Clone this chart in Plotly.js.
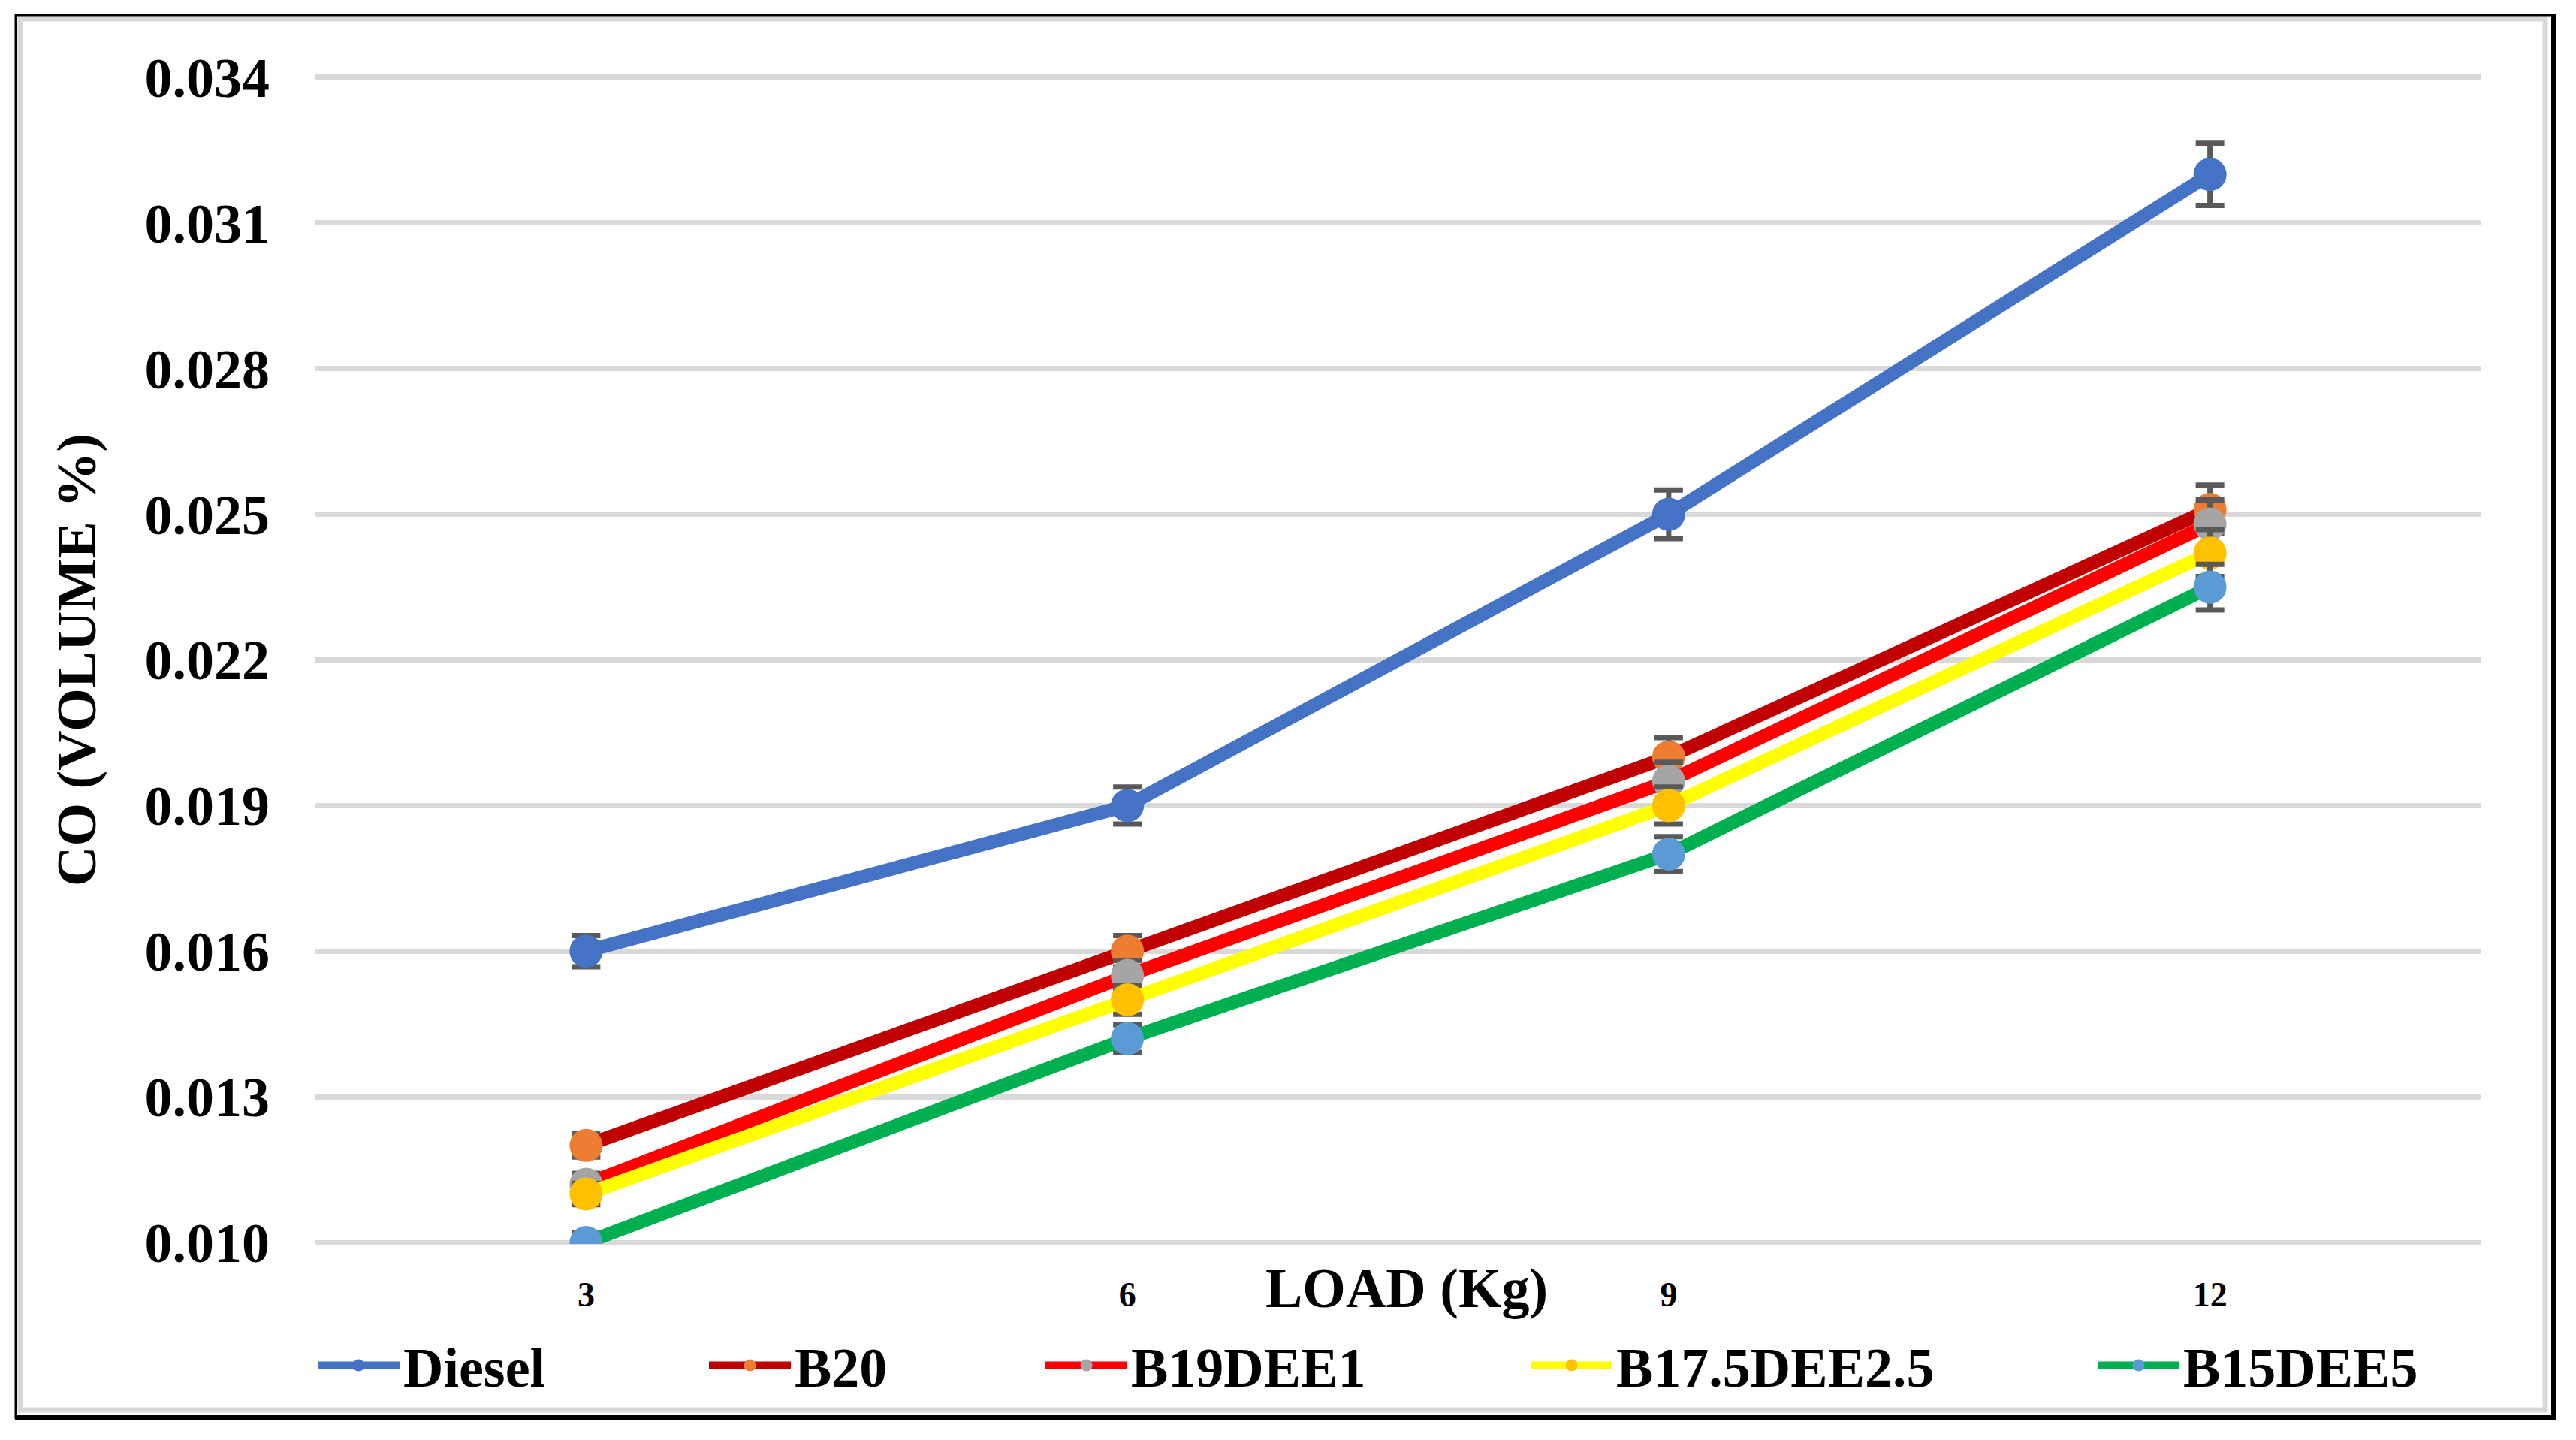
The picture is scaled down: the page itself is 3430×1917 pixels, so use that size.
<!DOCTYPE html>
<html>
<head>
<meta charset="utf-8">
<script src="https://cdn.plot.ly/plotly-3.0.1.min.js"></script>
<style>
html,body{margin:0;padding:0;background:#ffffff;}
#chart{width:3430px;height:1917px;}
</style>
</head>
<body>
<div id="chart"></div>
<script>
// ---------- data ----------
const loads = ['3', '6', '9', '12'];
const diesel    = [0.0160, 0.0190, 0.0250, 0.0320];
const b20       = [0.0120, 0.0160, 0.0200, 0.0251];
const b19dee1   = [0.0112, 0.0155, 0.0195, 0.0248];
const b175dee25 = [0.0110, 0.0150, 0.0190, 0.0242];
const b15dee5   = [0.0100, 0.0142, 0.0180, 0.0235];
const seriesNames = ['Diesel', 'B20', 'B19DEE1', 'B17.5DEE2.5', 'B15DEE5'];
const errorPercent = 2;
const yTickVals = [0.010, 0.013, 0.016, 0.019, 0.022, 0.025, 0.028, 0.031, 0.034];
const xTitle = 'LOAD (Kg)';
const yTitle = 'CO (VOLUME %)';

// ---------- styling ----------
const seriesValues = [diesel, b20, b19dee1, b175dee25, b15dee5];
const lineColors   = ['#4472C4', '#C00000', '#FF0000', '#FFFF00', '#00B050'];
const markerColors = ['#4472C4', '#ED7D31', '#A5A5A5', '#FFC000', '#5B9BD5'];
const FONT = '"Liberation Serif", "Times New Roman", serif';

const W = 3430, H = 1917;
const mL = 420, mR = 127, mT = 101, mB = 261;
const plotW = W - mL - mR, plotH = H - mT - mB;
const px = x => (x - mL) / plotW;
const py = y => (H - mB - y) / plotH;

const legendNames = ['legend', 'legend2', 'legend3', 'legend4', 'legend5'];
const legendStartPx = [418, 939, 1387, 2033, 2788];

const traces = seriesValues.map((vals, i) => ({
  type: 'scatter',
  mode: 'lines+markers',
  name: seriesNames[i],
  x: loads,
  y: vals,
  legend: legendNames[i],
  line: {color: lineColors[i], width: 18},
  marker: {color: markerColors[i], size: 44},
  error_y: {type: 'percent', value: errorPercent, visible: true, color: '#595959', thickness: 7, width: 19}
}));

const layout = {
  width: W, height: H,
  paper_bgcolor: '#ffffff', plot_bgcolor: '#ffffff',
  margin: {l: mL, r: mR, t: mT, b: mB, pad: 0},
  font: {family: FONT, color: '#000000', size: 74, weight: 'bold'},
  showlegend: true,
  xaxis: {
    type: 'category',
    range: [-0.5, 3.5],
    showgrid: false, zeroline: false, showline: false, ticks: '',
    tickfont: {family: FONT, size: 46, color: '#000000', weight: 'bold'},
    ticklabelstandoff: 36,
    fixedrange: true
  },
  yaxis: {
    range: [0.00997, 0.03403],
    tickvals: yTickVals,
    tickformat: '.3f',
    showgrid: true, gridcolor: '#D9D9D9', gridwidth: 7,
    zeroline: false, showline: false, ticks: '',
    tickfont: {family: FONT, size: 74, color: '#000000', weight: 'bold'},
    ticklabelstandoff: 60,
    title: {text: yTitle, font: {family: FONT, size: 74, color: '#000000', weight: 'bold'}, standoff: 40},
    fixedrange: true
  },
  annotations: [{
    text: xTitle, xref: 'paper', yref: 'paper',
    x: px(1873), y: py(1715), xanchor: 'center', yanchor: 'middle',
    showarrow: false,
    font: {family: FONT, size: 74, color: '#000000', weight: 'bold'}
  }],
  shapes: [
    // inner grey border
    {type: 'rect', xref: 'paper', yref: 'paper', x0: px(27), x1: px(3389), y0: py(25), y1: py(1877),
     line: {color: '#D9D9D9', width: 7}, fillcolor: 'rgba(0,0,0,0)', layer: 'below'},
    // outer black frame: thin top/left, heavier bottom/right
    {type: 'line', xref: 'paper', yref: 'paper', x0: px(20), x1: px(3401), y0: py(20), y1: py(20), line: {color: '#000000', width: 3}},
    {type: 'line', xref: 'paper', yref: 'paper', x0: px(21), x1: px(21), y0: py(19), y1: py(1889), line: {color: '#000000', width: 3}},
    {type: 'line', xref: 'paper', yref: 'paper', x0: px(20), x1: px(3403), y0: py(1887), y1: py(1887), line: {color: '#000000', width: 6}},
    {type: 'line', xref: 'paper', yref: 'paper', x0: px(3400), x1: px(3400), y0: py(19), y1: py(1890), line: {color: '#000000', width: 6}}
  ]
};

legendNames.forEach((ln, i) => {
  layout[ln] = {
    orientation: 'h',
    x: px(legendStartPx[i]), xanchor: 'left',
    y: py(1818), yanchor: 'middle',
    bgcolor: 'rgba(0,0,0,0)', borderwidth: 0,
    itemwidth: 109,
    font: {family: FONT, size: 74, color: '#000000', weight: 'bold'}
  };
});

Plotly.newPlot('chart', traces, layout, {displayModeBar: false, staticPlot: true});
</script>
</body>
</html>
